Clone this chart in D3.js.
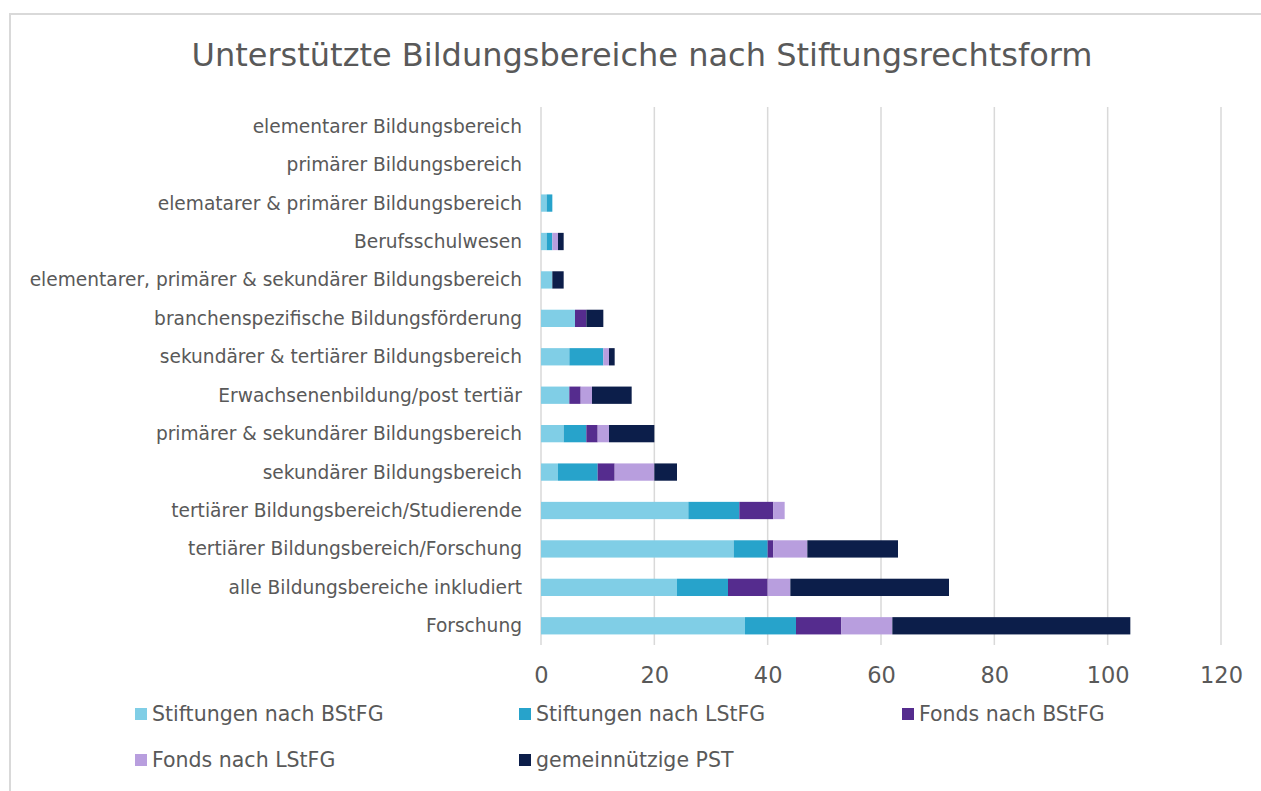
<!DOCTYPE html>
<html><head><meta charset="utf-8">
<script src="https://cdn.jsdelivr.net/npm/d3@7/dist/d3.min.js"></script>
<style>body{margin:0;background:#fff}svg{display:block}text{font-family:"DejaVu Sans",Verdana,sans-serif;fill:#595959}</style>
</head><body><svg id="c" width="1261" height="791"></svg>
<script>
const title = "Unterstützte Bildungsbereiche nach Stiftungsrechtsform";
const categories = [
  "elementarer Bildungsbereich",
  "primärer Bildungsbereich",
  "elematarer & primärer Bildungsbereich",
  "Berufsschulwesen",
  "elementarer, primärer & sekundärer Bildungsbereich",
  "branchenspezifische Bildungsförderung ",
  "sekundärer & tertiärer Bildungsbereich",
  "Erwachsenenbildung/post tertiär",
  "primärer & sekundärer Bildungsbereich",
  "sekundärer Bildungsbereich ",
  "tertiärer Bildungsbereich/Studierende",
  "tertiärer Bildungsbereich/Forschung",
  "alle Bildungsbereiche inkludiert",
  "Forschung"
];
const seriesNames = ["Stiftungen nach BStFG","Stiftungen nach LStFG","Fonds nach BStFG","Fonds nach LStFG","gemeinnützige PST"];
const stiftungenBStFG = [0,0,1,1,2,6,5,5,4,3,26,34,24,36];
const stiftungenLStFG = [0,0,1,1,0,0,6,0,4,7,9,6,9,9];
const fondsBStFG      = [0,0,0,0,0,2,0,2,2,3,6,1,7,8];
const fondsLStFG      = [0,0,0,1,0,0,1,2,2,7,2,6,4,9];
const gemeinnuetzigePST = [0,0,0,1,2,3,1,7,8,4,0,16,28,42];
const xTicks = [0,20,40,60,80,100,120];
const colors = ["#80CEE6","#27A3CB","#552C8E","#B89EDE","#0C1E4A"];

const seriesValues = [stiftungenBStFG, stiftungenLStFG, fondsBStFG, fondsLStFG, gemeinnuetzigePST];
const rows = categories.map((c,i)=>{const o={cat:c}; seriesNames.forEach((s,j)=>o[s]=seriesValues[j][i]); return o;});
const stacked = d3.stack().keys(seriesNames)(rows);

const svg = d3.select("#c");
svg.append("rect").attr("x",10).attr("y",14).attr("width",1270).attr("height",800)
  .attr("fill","none").attr("stroke","#d9d9d9").attr("stroke-width",2);

svg.append("text").attr("x",642).attr("y",66).attr("text-anchor","middle")
  .attr("font-size",32).text(title);

const x = d3.scaleLinear().domain([0,120]).range([541,1221]);
const y = d3.scaleBand().domain(categories).range([107,645]).paddingInner(0.55).paddingOuter(0.275);

svg.append("g").selectAll("line").data(xTicks).join("line")
  .attr("x1",d=>x(d)).attr("x2",d=>x(d)).attr("y1",107).attr("y2",645)
  .attr("stroke","#d9d9d9").attr("stroke-width",1.5);

const xAxis = d3.axisBottom(x).tickValues(xTicks).tickSize(0).tickPadding(0);
const gx = svg.append("g").attr("transform","translate(0,667)").call(xAxis);
gx.select(".domain").remove();
gx.selectAll("text").attr("font-size",22.5).style("fill","#595959").attr("font-family","DejaVu Sans");

const yAxis = d3.axisLeft(y).tickSize(0).tickPadding(0);
const gy = svg.append("g").attr("transform","translate(522,0)").call(yAxis);
gy.select(".domain").remove();
gy.selectAll("text").attr("font-size",18.6).style("fill","#595959").attr("font-family","DejaVu Sans").attr("dy","0.35em");

svg.append("g").selectAll("g").data(stacked).join("g").attr("fill",(d,i)=>colors[i])
  .selectAll("rect").data(d=>d).join("rect")
  .attr("x",d=>x(d[0])).attr("width",d=>x(d[1])-x(d[0]))
  .attr("y",d=>y(d.data.cat)).attr("height",y.bandwidth());

const legendPos = [[135,714],[519,714],[902,714],[135,760],[519,760]];
const lg = svg.append("g").selectAll("g").data(seriesNames).join("g")
  .attr("transform",(d,i)=>`translate(${legendPos[i][0]},${legendPos[i][1]})`);
lg.append("rect").attr("x",0).attr("y",-6).attr("width",12).attr("height",12).attr("fill",(d,i)=>colors[i]);
lg.append("text").attr("x",17).attr("y",0).attr("dy","0.35em").attr("font-size",20.5).text(d=>d);
</script></body></html>
